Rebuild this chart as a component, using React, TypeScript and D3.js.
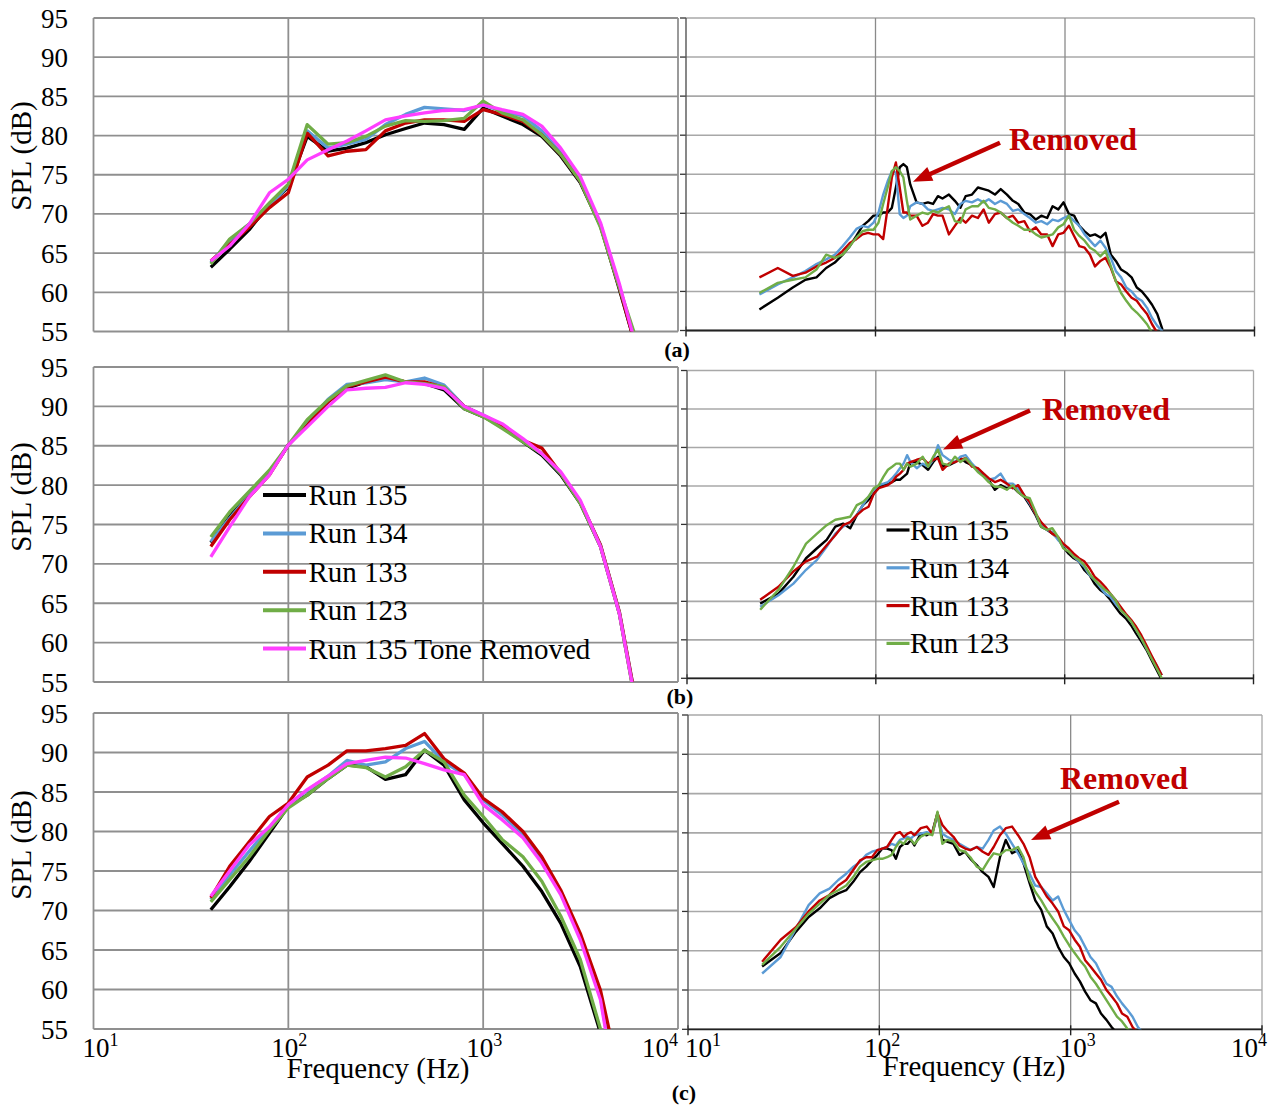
import React from "react";
import * as d3 from "d3";

// ---------- 1/3-octave band data (left column) ----------
const BANDS = [40, 50, 63, 80, 100, 125, 160, 200, 250, 315, 400, 500, 630, 800, 1000, 1250, 1600, 2000, 2500, 3150, 4000, 5000, 6300];

const A_RUN135 = [63.2, 65.5, 68.0, 71.2, 73.4, 79.9, 78.0, 78.4, 79.1, 80.1, 80.9, 81.6, 81.4, 80.8, 83.5, 82.5, 81.4, 79.9, 77.4, 74.0, 68.5, 60.4, 51.7];
const A_RUN134 = [63.8, 66.6, 68.7, 71.0, 73.6, 80.6, 78.4, 78.9, 79.5, 81.4, 82.7, 83.6, 83.4, 83.2, 83.9, 83.1, 82.5, 80.6, 77.8, 74.2, 68.7, 60.8, 51.9];
const A_RUN133 = [64.0, 66.1, 68.3, 70.8, 72.7, 80.3, 77.4, 78.0, 78.2, 80.6, 81.6, 82.0, 82.0, 81.8, 83.3, 82.7, 81.8, 80.1, 77.6, 74.2, 68.5, 60.6, 51.7];
const A_RUN123 = [63.6, 66.8, 68.7, 71.4, 73.8, 81.4, 78.9, 79.1, 79.9, 81.2, 81.9, 81.8, 81.9, 82.2, 84.4, 82.9, 82.0, 80.1, 77.6, 74.2, 68.3, 60.6, 53.0];
const A_RUN135_TR = [64.0, 65.9, 68.7, 72.7, 74.4, 76.9, 78.2, 79.3, 80.6, 82.0, 82.5, 82.9, 83.2, 83.3, 83.9, 83.3, 82.7, 81.2, 78.4, 74.8, 68.9, 61.1, 51.7];

const B_RUN135 = [72.7, 76.0, 78.9, 81.5, 85.1, 87.6, 90.6, 92.3, 93.1, 93.6, 93.1, 92.9, 92.1, 89.7, 88.7, 87.4, 85.5, 83.8, 81.3, 77.7, 72.2, 63.7, 50.1];
const B_RUN134 = [72.8, 75.8, 78.7, 81.5, 85.1, 87.8, 90.9, 92.8, 93.0, 93.4, 93.1, 93.6, 92.7, 90.0, 88.9, 87.6, 85.7, 84.0, 81.5, 77.9, 72.4, 63.9, 50.5];
const B_RUN133 = [72.2, 75.6, 78.5, 81.3, 85.1, 87.6, 90.6, 92.5, 93.1, 93.7, 93.1, 93.1, 92.4, 90.0, 88.8, 87.5, 85.7, 84.7, 81.5, 77.9, 72.4, 63.9, 50.5];
const B_RUN123 = [73.4, 76.6, 79.2, 81.9, 85.1, 88.3, 90.8, 92.6, 93.3, 94.0, 93.1, 92.9, 92.5, 89.7, 88.7, 87.2, 85.5, 84.0, 81.5, 77.7, 72.2, 63.7, 49.9];
const B_RUN135_TR = [70.9, 74.7, 78.5, 81.3, 85.1, 87.4, 90.0, 92.1, 92.3, 92.4, 93.0, 92.8, 92.3, 90.0, 88.9, 87.8, 85.9, 84.0, 81.7, 78.1, 72.2, 63.7, 50.1];

const C_RUN135 = [70.1, 73.0, 76.2, 79.8, 83.2, 84.6, 86.7, 88.4, 88.2, 86.6, 87.2, 90.3, 88.4, 84.0, 81.1, 78.5, 75.6, 72.4, 68.4, 62.9, 54.5, 45.0, 38.0];
const C_RUN134 = [71.4, 74.5, 77.5, 80.5, 83.4, 85.2, 87.0, 89.0, 88.4, 88.8, 90.5, 91.4, 88.8, 87.2, 84.0, 82.1, 79.6, 76.4, 72.2, 66.7, 59.1, 45.0, 38.0];
const C_RUN133 = [71.6, 75.6, 78.7, 81.9, 83.6, 86.9, 88.4, 90.2, 90.2, 90.5, 90.9, 92.4, 89.2, 87.4, 84.2, 82.5, 80.0, 76.8, 72.6, 67.1, 59.9, 49.0, 40.0];
const C_RUN123 = [71.1, 73.9, 76.8, 80.2, 83.0, 84.6, 86.7, 88.4, 88.1, 86.9, 88.2, 90.3, 88.8, 84.6, 81.9, 79.0, 76.8, 73.7, 69.3, 63.8, 55.0, 45.0, 38.0];
const C_RUN135_TR = [71.8, 75.0, 78.3, 80.6, 83.4, 85.3, 87.0, 88.6, 89.0, 89.4, 89.3, 88.6, 87.8, 87.2, 83.4, 81.5, 79.2, 76.0, 72.0, 66.3, 58.7, 44.5, 38.0];

// ---------- narrowband data (right column) ----------
const NB_FREQ = [24.4, 30.5, 36.6, 42.7, 48.8, 54.9, 61, 67.1, 73.2, 79.3, 85.4, 91.5, 97.6, 103.7, 109.8, 115.9, 122, 128.1, 134.2, 140.3, 146.4, 152.5, 164.7, 176.9, 189.1, 201.3, 213.5, 225.7, 244, 262.3, 280.6, 299, 323, 347, 372, 396, 427, 458, 494, 531, 567, 610, 653, 702, 750, 805, 860, 921, 982, 1049, 1117, 1190, 1269, 1355, 1440, 1538, 1636, 1746, 1855, 1977, 2106, 2246, 2392, 2545, 2710, 2880, 3070, 3270];

const NA_RUN135 = [57.7, 59.2, 60.5, 61.5, 61.8, 63.0, 63.7, 64.7, 65.8, 67.1, 68.4, 69.0, 69.7, 69.7, 70.1, 70.1, 70.7, 73.3, 75.9, 76.3, 75.9, 73.7, 71.4, 71.2, 71.4, 71.2, 72.2, 71.9, 72.4, 71.6, 70.7, 72.2, 72.4, 73.3, 73.1, 72.9, 72.4, 73.1, 72.4, 71.6, 71.2, 70.1, 69.9, 69.2, 69.7, 69.4, 70.9, 70.5, 71.4, 69.9, 69.7, 68.4, 67.7, 67.1, 67.3, 66.9, 67.5, 64.7, 63.9, 62.8, 62.4, 61.8, 60.5, 60.0, 59.2, 58.3, 57.1, 55.1];
const NA_RUN134 = [59.6, 60.9, 61.8, 62.6, 63.5, 64.1, 64.7, 65.8, 66.9, 68.0, 68.4, 68.2, 68.8, 70.1, 72.4, 74.1, 75.4, 75.2, 69.9, 69.4, 69.7, 70.9, 71.4, 71.2, 70.5, 70.3, 70.5, 70.7, 70.5, 69.9, 71.2, 71.6, 71.4, 71.8, 71.4, 71.8, 71.2, 71.6, 71.2, 70.3, 70.5, 69.9, 69.4, 68.8, 69.0, 68.6, 69.2, 69.0, 69.4, 69.7, 69.0, 68.4, 67.3, 66.5, 65.8, 66.5, 65.6, 64.3, 62.6, 61.8, 60.5, 60.0, 59.2, 58.8, 57.9, 56.6, 55.6, 54.9];
const NA_RUN133 = [61.8, 63.0, 62.0, 62.4, 63.2, 63.7, 64.3, 65.2, 66.2, 66.7, 67.3, 67.5, 67.3, 67.3, 66.7, 70.7, 74.6, 76.5, 73.3, 70.1, 70.1, 69.7, 69.7, 68.4, 68.8, 69.9, 69.7, 69.7, 67.3, 68.4, 69.4, 68.8, 69.7, 69.4, 70.5, 68.8, 69.9, 70.1, 69.4, 69.7, 68.8, 69.0, 67.7, 68.2, 67.3, 67.3, 65.8, 67.3, 67.5, 68.4, 67.1, 65.8, 65.6, 64.7, 63.2, 63.9, 64.3, 63.0, 61.3, 60.9, 60.0, 59.2, 58.8, 57.9, 57.1, 55.8, 54.7, 54.0];
const NA_RUN123 = [59.8, 61.1, 61.5, 61.8, 62.8, 64.7, 64.3, 64.7, 65.8, 66.9, 67.7, 67.9, 67.9, 68.8, 71.2, 73.3, 75.4, 75.9, 75.4, 74.6, 71.6, 69.2, 69.7, 70.1, 69.9, 70.3, 70.1, 70.5, 70.9, 69.0, 68.8, 70.5, 70.9, 70.9, 71.6, 70.7, 70.5, 70.1, 69.4, 68.8, 68.4, 67.9, 67.9, 67.3, 66.9, 67.1, 67.3, 68.2, 68.6, 69.7, 67.9, 67.1, 66.5, 65.6, 65.2, 64.5, 65.2, 63.2, 61.3, 59.8, 58.8, 57.9, 57.3, 56.6, 55.8, 54.7, 54.1, 53.4];

const NB_RUN135 = [64.7, 66.0, 68.2, 70.6, 71.9, 73.0, 74.7, 75.1, 74.5, 76.2, 77.5, 78.2, 79.0, 79.9, 80.1, 80.3, 80.5, 80.8, 80.8, 81.2, 81.6, 83.1, 83.1, 82.7, 82.1, 83.1, 83.8, 82.5, 82.7, 83.1, 83.6, 83.1, 82.7, 82.1, 81.4, 80.8, 79.5, 80.1, 79.7, 79.9, 79.2, 78.6, 77.5, 76.2, 74.7, 74.3, 73.8, 73.2, 72.1, 71.2, 70.6, 70.2, 69.1, 68.4, 67.3, 66.5, 66.0, 65.2, 64.3, 63.4, 62.8, 61.9, 60.8, 59.8, 58.7, 57.4, 56.1, 54.8];
const NB_RUN134 = [64.3, 65.8, 67.3, 69.1, 70.4, 72.1, 73.8, 74.7, 75.3, 76.2, 77.5, 78.6, 79.5, 80.1, 80.3, 80.5, 81.0, 81.6, 82.3, 82.9, 84.0, 83.1, 82.3, 82.9, 82.5, 83.4, 85.3, 84.0, 83.4, 83.1, 83.8, 84.0, 82.9, 82.1, 81.6, 80.8, 81.0, 81.6, 80.3, 80.3, 79.7, 78.8, 77.7, 76.4, 74.9, 74.3, 74.0, 73.0, 72.3, 71.9, 70.8, 70.2, 69.5, 68.4, 67.8, 66.9, 66.0, 65.6, 64.7, 63.9, 63.2, 62.4, 61.3, 60.2, 58.9, 57.8, 56.7, 55.4];
const NB_RUN133 = [65.2, 66.9, 68.9, 70.2, 70.8, 72.3, 73.6, 74.9, 75.3, 76.2, 76.9, 77.3, 79.0, 79.7, 79.9, 80.1, 80.5, 81.2, 81.6, 82.1, 82.9, 83.1, 83.4, 83.6, 82.9, 83.4, 83.6, 82.1, 82.9, 83.1, 83.4, 83.6, 82.5, 82.3, 81.6, 81.0, 80.5, 80.8, 80.3, 79.7, 80.1, 78.8, 77.9, 76.4, 75.3, 74.5, 73.8, 73.4, 72.5, 71.9, 71.2, 70.6, 70.2, 69.3, 68.2, 67.6, 66.9, 66.0, 65.2, 64.3, 63.4, 62.6, 61.7, 60.6, 59.3, 58.0, 56.7, 55.4];
const NB_RUN123 = [63.9, 66.5, 69.5, 72.5, 73.8, 74.9, 75.6, 75.8, 76.0, 77.5, 77.9, 78.6, 79.7, 80.1, 81.2, 82.1, 82.5, 82.9, 82.9, 82.1, 82.9, 82.5, 82.9, 83.8, 82.5, 83.8, 84.7, 82.9, 82.7, 83.8, 83.1, 83.6, 82.7, 81.8, 81.2, 80.5, 79.9, 79.9, 79.5, 80.1, 79.2, 78.6, 78.4, 76.6, 74.7, 74.3, 74.5, 73.4, 71.9, 71.5, 70.8, 70.4, 69.7, 68.6, 67.8, 67.1, 66.5, 66.0, 65.2, 63.9, 63.2, 62.4, 61.3, 60.2, 58.9, 57.6, 56.3, 55.0];

const NC_RUN135 = [63.0, 64.7, 67.4, 69.3, 70.4, 71.7, 72.3, 72.7, 73.8, 75.0, 75.7, 76.5, 77.2, 78.0, 78.0, 77.8, 76.7, 78.2, 78.6, 78.6, 79.1, 78.4, 79.9, 79.7, 80.1, 82.5, 79.1, 78.9, 78.6, 77.2, 77.6, 76.7, 75.9, 75.0, 74.4, 73.1, 76.9, 79.1, 77.4, 77.8, 76.1, 73.6, 71.4, 70.2, 68.1, 67.2, 65.5, 64.2, 63.4, 62.1, 61.1, 59.8, 58.7, 58.3, 57.0, 56.2, 55.3, 54.5, 53.6, 52.8, 52.0, 51.1, 50.3, 49.4, 48.6, 47.7, 46.9, 46.0];
const NC_RUN134 = [62.1, 64.2, 67.8, 70.8, 72.3, 72.9, 74.0, 74.8, 75.7, 76.3, 77.2, 77.6, 77.8, 78.0, 78.2, 78.6, 78.4, 79.1, 79.3, 79.5, 79.3, 79.7, 79.9, 80.1, 79.9, 82.2, 79.9, 79.5, 79.1, 78.6, 78.2, 77.8, 78.2, 78.0, 79.1, 80.3, 80.8, 79.9, 78.6, 77.4, 76.1, 74.8, 73.3, 73.1, 72.3, 71.4, 71.9, 70.2, 68.9, 67.6, 66.8, 65.5, 64.2, 63.4, 62.1, 60.8, 60.4, 59.2, 58.3, 57.5, 56.6, 55.3, 54.5, 53.6, 52.8, 52.0, 51.1, 50.3];
const NC_RUN133 = [63.6, 66.4, 68.0, 70.0, 71.4, 72.1, 73.3, 74.0, 75.3, 76.5, 76.9, 76.9, 77.8, 78.0, 78.2, 79.1, 79.9, 80.1, 79.5, 79.9, 80.1, 79.7, 80.6, 80.8, 79.9, 82.5, 81.0, 80.3, 79.5, 78.4, 78.0, 77.8, 78.2, 77.6, 77.2, 78.2, 79.7, 80.6, 80.8, 79.7, 78.6, 76.9, 74.4, 73.1, 71.9, 71.0, 70.0, 68.1, 67.6, 66.4, 65.5, 63.8, 63.0, 62.1, 61.3, 60.0, 59.2, 58.3, 57.0, 56.6, 55.3, 54.5, 53.6, 52.8, 52.0, 51.1, 50.3, 49.4];
const NC_RUN123 = [63.2, 65.5, 67.8, 69.7, 71.0, 72.1, 72.7, 73.3, 74.4, 75.7, 76.3, 76.5, 76.7, 76.7, 76.9, 77.2, 78.2, 78.9, 78.6, 79.3, 79.1, 78.6, 79.5, 79.9, 79.7, 82.7, 78.6, 79.1, 78.9, 77.8, 77.6, 76.9, 75.7, 75.3, 76.5, 77.4, 77.2, 77.8, 77.8, 78.2, 76.9, 74.0, 72.5, 71.4, 70.2, 69.1, 68.1, 66.8, 65.7, 64.7, 63.8, 63.0, 61.7, 60.8, 59.8, 58.7, 57.7, 56.6, 56.0, 55.1, 54.3, 53.6, 52.8, 51.9, 51.1, 50.3, 49.4, 48.6];

// ---------- labels / styles ----------
const SERIES_NAMES = ["Run 135", "Run 134", "Run 133", "Run 123", "Run 135 Tone Removed"];
const SERIES_COLORS = ["#000000", "#5B9BD5", "#C00000", "#70AD47", "#FF3FFF"];
const Y_TICKS = [55, 60, 65, 70, 75, 80, 85, 90, 95];
const X_TICKS = [10, 100, 1000, 10000];
const X_TICK_EXP = ["1", "2", "3", "4"];
const PANEL_TAGS = ["(a)", "(b)", "(c)"];
const ANNOTATION = "Removed";
const Y_TITLE = "SPL (dB)";
const X_TITLE = "Frequency (Hz)";

const LEFT_SETS = [
  [A_RUN135, A_RUN134, A_RUN133, A_RUN123, A_RUN135_TR],
  [B_RUN135, B_RUN134, B_RUN133, B_RUN123, B_RUN135_TR],
  [C_RUN135, C_RUN134, C_RUN133, C_RUN123, C_RUN135_TR],
];
const RIGHT_SETS = [
  [NA_RUN135, NA_RUN134, NA_RUN133, NA_RUN123],
  [NB_RUN135, NB_RUN134, NB_RUN133, NB_RUN123],
  [NC_RUN135, NC_RUN134, NC_RUN133, NC_RUN123],
];

const FONT = "'Liberation Serif', 'Times New Roman', serif";
const RED = "#C00000";

const LEFT_LAYOUT = [
  { x0: 93.5, x1: 678, y0: 18, y1: 331.5, titleY: 156 },
  { x0: 93.5, x1: 678, y0: 367, y1: 682, titleY: 497 },
  { x0: 93.5, x1: 678, y0: 713, y1: 1029, titleY: 845 },
];
const RIGHT_LAYOUT = [
  { x0: 686, x1: 1254.5, y0: 18, y1: 330.5 },
  { x0: 687, x1: 1253.5, y0: 370.5, y1: 678.3 },
  { x0: 688, x1: 1262, y0: 715, y1: 1029.3 },
];
const ARROWS = [
  { tx: 1000, ty: 142.7, hx: 913, hy: 181.7, textX: 1009, textY: 150 },
  { tx: 1030, ty: 410.5, hx: 943, hy: 449.5, textX: 1042, textY: 420 },
  { tx: 1119, ty: 801.7, hx: 1031, hy: 840, textX: 1060, textY: 789 },
];
const TAG_POS = [
  { x: 677, y: 357 },
  { x: 680, y: 704 },
  { x: 684, y: 1100 },
];

function LeftPanel({ idx }: { idx: number }) {
  const L = LEFT_LAYOUT[idx];
  const x = d3.scaleLog().domain([10, 10000]).range([L.x0, L.x1]);
  const y = d3.scaleLinear().domain([55, 95]).range([L.y1, L.y0]);
  const line = d3
    .line()
    .x((d: any) => x(d[0]))
    .y((d: any) => y(d[1]));
  const clipId = `clipL${idx}`;
  const grid = "#8f8f8f";
  return (
    <g>
      <defs>
        <clipPath id={clipId}>
          <rect x={L.x0} y={L.y0} width={L.x1 - L.x0} height={L.y1 - L.y0} />
        </clipPath>
      </defs>
      {Y_TICKS.map((t) => (
        <line key={"h" + t} x1={L.x0} x2={L.x1} y1={y(t)} y2={y(t)} stroke={grid} strokeWidth={1.8} />
      ))}
      {X_TICKS.map((t) => (
        <line key={"v" + t} x1={x(t)} x2={x(t)} y1={L.y0} y2={L.y1} stroke={grid} strokeWidth={1.8} />
      ))}
      {Y_TICKS.map((t) => (
        <text key={"yl" + t} x={68} y={y(t) + 9.5} textAnchor="end" fontSize={27} fontFamily={FONT} fill="#000">
          {t}
        </text>
      ))}
      <text
        transform={`translate(31,${L.titleY}) rotate(-90)`}
        textAnchor="middle"
        fontSize={29}
        fontFamily={FONT}
        fill="#000"
      >
        {Y_TITLE}
      </text>
      <g clipPath={`url(#${clipId})`}>
        {LEFT_SETS[idx].map((vals, s) => (
          <path
            key={s}
            d={line(vals.map((v, i) => [BANDS[i], v]) as any) || ""}
            fill="none"
            stroke={SERIES_COLORS[s]}
            strokeWidth={3.3}
            strokeLinejoin="round"
          />
        ))}
      </g>
    </g>
  );
}

function RightPanel({ idx }: { idx: number }) {
  const L = RIGHT_LAYOUT[idx];
  const x = d3.scaleLog().domain([10, 10000]).range([L.x0, L.x1]);
  const y = d3.scaleLinear().domain([55, 95]).range([L.y1, L.y0]);
  const line = d3
    .line()
    .x((d: any) => x(d[0]))
    .y((d: any) => y(d[1]));
  const clipId = `clipR${idx}`;
  return (
    <g>
      <defs>
        <clipPath id={clipId}>
          <rect x={L.x0} y={L.y0 - 2} width={L.x1 - L.x0} height={L.y1 - L.y0 + 2} />
        </clipPath>
      </defs>
      {Y_TICKS.map((t) => (
        <line key={"h" + t} x1={L.x0} x2={L.x1} y1={y(t)} y2={y(t)} stroke="#a8a8a8" strokeWidth={1.6} />
      ))}
      {X_TICKS.slice(1).map((t) => (
        <line key={"v" + t} x1={x(t)} x2={x(t)} y1={L.y0} y2={L.y1} stroke={t === 10000 ? "#a8a8a8" : "#8a8a8a"} strokeWidth={1.3} />
      ))}
      {Y_TICKS.map((t) => (
        <line key={"yt" + t} x1={L.x0 - 6} x2={L.x0} y1={y(t)} y2={y(t)} stroke="#333" strokeWidth={1.3} />
      ))}
      {X_TICKS.map((t) => (
        <line key={"xt" + t} x1={x(t)} x2={x(t)} y1={L.y1 - 4} y2={L.y1 + 6} stroke="#222" strokeWidth={1.4} />
      ))}
      <line x1={L.x0} x2={L.x0} y1={L.y0} y2={L.y1} stroke="#555" strokeWidth={1.4} />
      <line x1={L.x0} x2={L.x1} y1={L.y1} y2={L.y1} stroke="#222" strokeWidth={1.8} />
      <g clipPath={`url(#${clipId})`}>
        {RIGHT_SETS[idx].map((vals, s) => (
          <path
            key={s}
            d={line(vals.map((v, i) => [NB_FREQ[i], v]) as any) || ""}
            fill="none"
            stroke={SERIES_COLORS[s]}
            strokeWidth={2.4}
            strokeLinejoin="round"
          />
        ))}
      </g>
    </g>
  );
}

function Arrow({ a }: { a: (typeof ARROWS)[number] }) {
  const dx = a.hx - a.tx;
  const dy = a.hy - a.ty;
  const len = Math.sqrt(dx * dx + dy * dy);
  const ux = dx / len;
  const uy = dy / len;
  const headLen = 19;
  const headW = 7.5;
  const bx = a.hx - ux * headLen;
  const by = a.hy - uy * headLen;
  const px = -uy;
  const py = ux;
  return (
    <g>
      <line x1={a.tx} y1={a.ty} x2={bx + ux * 2} y2={by + uy * 2} stroke={RED} strokeWidth={4.5} />
      <polygon
        points={`${a.hx},${a.hy} ${bx + px * headW},${by + py * headW} ${bx - px * headW},${by - py * headW}`}
        fill={RED}
      />
      <text x={a.textX} y={a.textY} fontSize={32} fontWeight="bold" fontFamily={FONT} fill={RED}>
        {ANNOTATION}
      </text>
    </g>
  );
}

function XTickLabels({ layout, offsets }: { layout: { x0: number; x1: number }; offsets: number[] }) {
  const x = d3.scaleLog().domain([10, 10000]).range([layout.x0, layout.x1]);
  return (
    <g>
      {X_TICKS.map((t, i) => (
        <text key={t} x={x(t) + offsets[i]} y={1057} textAnchor="middle" fontSize={27} fontFamily={FONT} fill="#000">
          10
          <tspan fontSize={18} dy={-11}>
            {X_TICK_EXP[i]}
          </tspan>
        </text>
      ))}
    </g>
  );
}

export default function App() {
  return (
    <svg
      width={1277}
      height={1109}
      viewBox="0 0 1277 1109"
      style={{ position: "absolute", left: 0, top: 0, background: "#fff", display: "block" }}
    >
      <rect x={0} y={0} width={1277} height={1109} fill="#fff" />
      {[0, 1, 2].map((i) => (
        <LeftPanel key={"L" + i} idx={i} />
      ))}
      {[0, 1, 2].map((i) => (
        <RightPanel key={"R" + i} idx={i} />
      ))}

      {/* legend, middle-left */}
      {SERIES_NAMES.map((name, i) => {
        const ry = 495 + i * 38.4;
        return (
          <g key={"lg" + i}>
            <line x1={263} x2={306} y1={ry} y2={ry} stroke={SERIES_COLORS[i]} strokeWidth={4} />
            <text x={308.5} y={ry + 10} fontSize={29} fontFamily={FONT} fill="#000">
              {name}
            </text>
          </g>
        );
      })}

      {/* legend, middle-right */}
      {SERIES_NAMES.slice(0, 4).map((name, i) => {
        const ry = 530 + i * 37.8;
        return (
          <g key={"rg" + i}>
            <line x1={886.5} x2={909.5} y1={ry} y2={ry} stroke={SERIES_COLORS[i]} strokeWidth={3.2} />
            <text x={910} y={ry + 10} fontSize={29} fontFamily={FONT} fill="#000">
              {name}
            </text>
          </g>
        );
      })}

      {ARROWS.map((a, i) => (
        <Arrow key={"ar" + i} a={a} />
      ))}

      {PANEL_TAGS.map((t, i) => (
        <text
          key={t}
          x={TAG_POS[i].x}
          y={TAG_POS[i].y}
          textAnchor="middle"
          fontSize={22}
          fontWeight="bold"
          fontFamily={FONT}
          fill="#000"
        >
          {t}
        </text>
      ))}

      <XTickLabels layout={LEFT_LAYOUT[2]} offsets={[7, 1, 1, -18]} />
      <XTickLabels layout={RIGHT_LAYOUT[2]} offsets={[15, 3, 7, -13]} />

      <text x={378} y={1078} textAnchor="middle" fontSize={29} fontFamily={FONT} fill="#000">
        {X_TITLE}
      </text>
      <text x={974} y={1076} textAnchor="middle" fontSize={29} fontFamily={FONT} fill="#000">
        {X_TITLE}
      </text>
    </svg>
  );
}
